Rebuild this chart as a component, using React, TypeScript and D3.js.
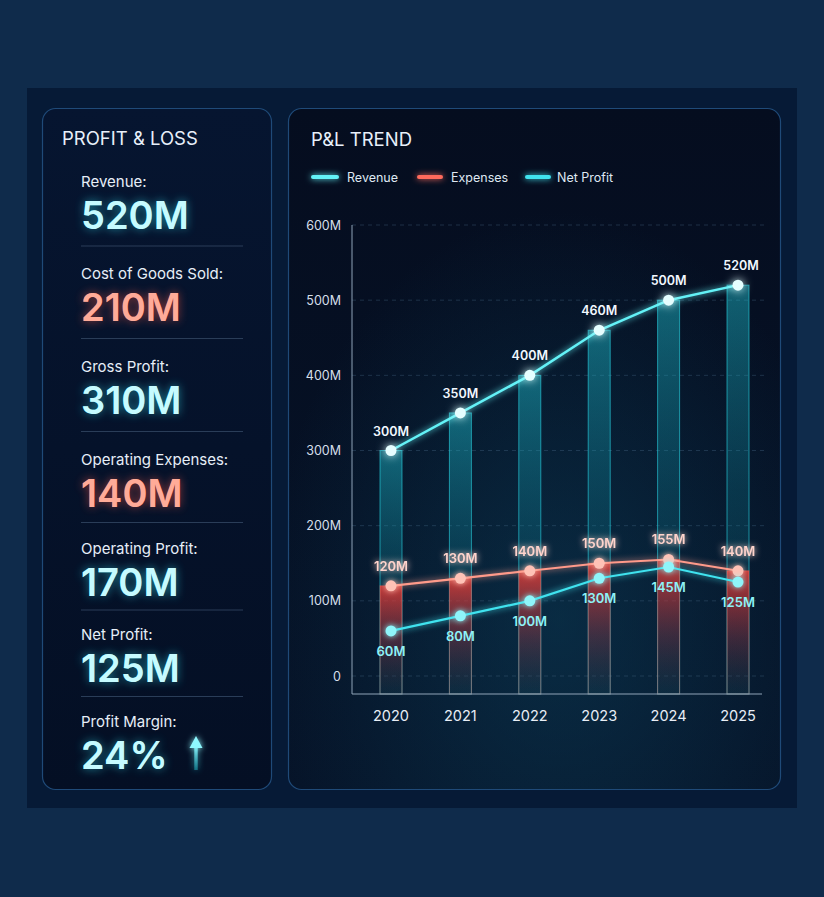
import React from 'react';
import * as d3 from 'd3';

const years = ['2020', '2021', '2022', '2023', '2024', '2025'];
const revenue = [300, 350, 400, 460, 500, 520];
const expenses = [120, 130, 140, 150, 155, 140];
const netProfit = [60, 80, 100, 130, 145, 125];
const yTicks = [0, 100, 200, 300, 400, 500, 600];
const legendNames = ['Revenue', 'Expenses', 'Net Profit'];

const summaryLabels = [
  'Revenue:',
  'Cost of Goods Sold:',
  'Gross Profit:',
  'Operating Expenses:',
  'Operating Profit:',
  'Net Profit:',
  'Profit Margin:',
];
const summaryValues = ['520M', '210M', '310M', '140M', '170M', '125M', '24%'];
const summaryTones = ['cyan', 'red', 'cyan', 'red', 'cyan', 'cyan', 'cyan'];

const W = 824;
const H = 897;
const FONT = "Inter, Roboto, 'Noto Sans', sans-serif";
const rowLabelY = [181, 273, 366, 459, 548, 634, 721];

const fmt = (v: number) => (v === 0 ? '0' : `${v}M`);

export default function App() {
  const x = d3.scalePoint<string>().domain(years).range([391, 738]);
  const y = d3.scaleLinear().domain([0, 600]).range([676, 225]);
  const axisY = 694;
  const barW = 22;

  const line = d3
    .line<number>()
    .x((_, i) => x(years[i]) as number)
    .y((d) => y(d));

  const colors = {
    rev: '#63f2f7',
    exp: '#ff6a5c',
    net: '#3fe3ef',
  };

  const legendX = [313, 419, 527];
  const legendTextX = [347, 451, 557];

  return (
    <div style={{ position: 'absolute', left: 0, top: 0 }}>
      <svg width={W} height={H} style={{ display: 'block' }}>
        <defs>
          <filter id="glow" filterUnits="userSpaceOnUse" x={0} y={0} width={W} height={H}>
            <feGaussianBlur stdDeviation="3" result="b" />
            <feMerge>
              <feMergeNode in="b" />
              <feMergeNode in="SourceGraphic" />
            </feMerge>
          </filter>
          <filter id="glowBig" filterUnits="userSpaceOnUse" x={0} y={0} width={W} height={H}>
            <feGaussianBlur stdDeviation="5" result="b" />
            <feMerge>
              <feMergeNode in="b" />
              <feMergeNode in="SourceGraphic" />
            </feMerge>
          </filter>
          <linearGradient id="cardL" x1="0" y1="0" x2="0" y2="1">
            <stop offset="0" stopColor="#061530" />
            <stop offset="1" stopColor="#040f24" />
          </linearGradient>
          <linearGradient id="cardR" x1="0" y1="0" x2="0" y2="1">
            <stop offset="0" stopColor="#050d1f" />
            <stop offset="1" stopColor="#061429" />
          </linearGradient>
          <radialGradient id="chartGlow" cx="0.55" cy="0.75" r="0.6">
            <stop offset="0" stopColor="#0d4a66" stopOpacity="0.45" />
            <stop offset="1" stopColor="#0d4a66" stopOpacity="0" />
          </radialGradient>
          <linearGradient id="barRev" x1="0" y1="0" x2="0" y2="1">
            <stop offset="0" stopColor="#1fc6d6" stopOpacity="0.45" />
            <stop offset="0.5" stopColor="#0f8ea3" stopOpacity="0.25" />
            <stop offset="1" stopColor="#0a5c70" stopOpacity="0.18" />
          </linearGradient>
          <linearGradient id="barExp" x1="0" y1="0" x2="0" y2="1">
            <stop offset="0" stopColor="#ff3a30" stopOpacity="0.75" />
            <stop offset="0.55" stopColor="#b8202a" stopOpacity="0.3" />
            <stop offset="1" stopColor="#601018" stopOpacity="0.05" />
          </linearGradient>
          <linearGradient id="arrowG" x1="0" y1="0" x2="0" y2="1">
            <stop offset="0" stopColor="#8ff8ff" />
            <stop offset="1" stopColor="#1a9fb0" stopOpacity="0.6" />
          </linearGradient>
        </defs>

        {/* page background */}
        <rect x={0} y={0} width={W} height={H} fill="#0f2b4b" />
        {/* outer panel */}
        <rect x={27} y={88} width={770} height={720} fill="#061a36" />

        {/* left card */}
        <rect x={42.5} y={108.5} width={229} height={681} rx={13} fill="url(#cardL)" stroke="#1f4a78" strokeWidth={1.2} />
        {/* right card */}
        <rect x={288.5} y={108.5} width={492} height={681} rx={13} fill="url(#cardR)" stroke="#1f4a78" strokeWidth={1.2} />
        <rect x={289} y={109} width={491} height={680} rx={13} fill="url(#chartGlow)" />

        {/* left card content */}
        <text x={62} y={145} fill="#e8f0fa" fontFamily={FONT} fontSize={18.5} fontWeight={400}>
          PROFIT &amp; LOSS
        </text>
        {summaryLabels.map((lab, i) => {
          const ly = rowLabelY[i];
          const vy = ly + 34;
          const tone = summaryTones[i];
          const fill = tone === 'red' ? '#ffab98' : '#c6fbff';
          const glowC = tone === 'red' ? '#ff5a44' : '#2fd6e8';
          return (
            <g key={lab}>
              <text x={81} y={ly + 5.5} fill="#e6eef8" fontFamily={FONT} fontSize={15}>
                {lab}
              </text>
              <text
                x={81}
                y={vy + 14}
                fill={glowC}
                fontFamily={FONT}
                fontSize={38}
                fontWeight={600}
                filter="url(#glowBig)"
                opacity={0.6}
              >
                {summaryValues[i]}
              </text>
              <text x={81} y={vy + 14} fill={fill} fontFamily={FONT} fontSize={38} fontWeight={600}>
                {summaryValues[i]}
              </text>
              {i < summaryLabels.length - 1 && (
                <line
                  x1={81}
                  x2={243}
                  y1={(rowLabelY[i] + 34 + rowLabelY[i + 1]) / 2 + 2}
                  y2={(rowLabelY[i] + 34 + rowLabelY[i + 1]) / 2 + 2}
                  stroke="#2a3d58"
                  strokeWidth={1}
                />
              )}
            </g>
          );
        })}
        {/* profit margin arrow */}
        <g filter="url(#glow)">
          <rect x={194.3} y={745} width={3.4} height={25} fill="url(#arrowG)" />
          <path d="M196,736 L189.5,748 L202.5,748 Z" fill="#8ff8ff" />
        </g>

        {/* chart title */}
        <text x={311} y={146} fill="#e8f0fa" fontFamily={FONT} fontSize={18.5} fontWeight={400}>
          P&amp;L TREND
        </text>

        {/* legend */}
        {legendNames.map((name, i) => {
          const c = i === 0 ? colors.rev : i === 1 ? colors.exp : colors.net;
          const lx = legendX[i];
          return (
            <g key={name}>
              <line
                x1={lx}
                x2={lx + (i === 0 ? 24 : 22)}
                y1={177}
                y2={177}
                stroke={c}
                strokeWidth={4}
                strokeLinecap="round"
                filter="url(#glow)"
              />
              <text x={legendTextX[i]} y={181.5} fill="#dfe8f2" fontFamily={FONT} fontSize={12.5}>
                {name}
              </text>
            </g>
          );
        })}

        {/* grid */}
        {yTicks.map((t) => (
          <g key={t}>
            <line
              x1={352}
              x2={765}
              y1={y(t)}
              y2={y(t)}
              stroke="#4a6a8a"
              strokeOpacity={0.45}
              strokeDasharray="4 4"
              strokeWidth={0.8}
            />
            <text
              x={341}
              y={y(t) + 4.5}
              textAnchor="end"
              fill="#d5dfea"
              fontFamily={FONT}
              fontSize={12.5}
            >
              {fmt(t)}
            </text>
          </g>
        ))}

        {/* bars */}
        {years.map((yr, i) => {
          const cx = x(yr) as number;
          return (
            <g key={yr}>
              <rect
                x={cx - barW / 2}
                y={y(revenue[i])}
                width={barW}
                height={axisY - y(revenue[i])}
                fill="url(#barRev)"
                stroke="#2ad7e6"
                strokeOpacity={0.6}
                strokeWidth={1}
              />
              <rect
                x={cx - barW / 2}
                y={y(expenses[i])}
                width={barW}
                height={axisY - y(expenses[i])}
                fill="url(#barExp)"
                stroke="#ff5a4a"
                strokeOpacity={0.4}
                strokeWidth={1}
              />
            </g>
          );
        })}

        {/* axes */}
        <line x1={352} x2={352} y1={225} y2={axisY} stroke="#8fa3b8" strokeWidth={1} />
        <line x1={352} x2={762} y1={axisY} y2={axisY} stroke="#8fa3b8" strokeWidth={1.2} />
        {years.map((yr) => (
          <text
            key={yr}
            x={x(yr) as number}
            y={721}
            textAnchor="middle"
            fill="#e8eef6"
            fontFamily={FONT}
            fontSize={14.5}
          >
            {yr}
          </text>
        ))}

        {/* lines */}
        <path d={line(revenue) || ''} fill="none" stroke={colors.rev} strokeWidth={2.5} filter="url(#glow)" />
        <path d={line(expenses) || ''} fill="none" stroke="#ff9a8a" strokeWidth={2.2} filter="url(#glow)" />
        <path d={line(netProfit) || ''} fill="none" stroke={colors.net} strokeWidth={2.2} filter="url(#glow)" />

        {/* points + labels */}
        {years.map((yr, i) => {
          const cx = x(yr) as number;
          return (
            <g key={yr}>
              <circle cx={cx} cy={y(revenue[i])} r={5.5} fill="#e6feff" filter="url(#glowBig)" />
              <circle cx={cx} cy={y(expenses[i])} r={5.5} fill="#ffc2b6" filter="url(#glow)" />
              <circle cx={cx} cy={y(netProfit[i])} r={5.5} fill="#8ff5fa" filter="url(#glow)" />
              <text
                x={cx + (i === 5 ? 3 : 0)}
                y={y(revenue[i]) - 15}
                textAnchor="middle"
                fill="#f2f8ff"
                fontFamily={FONT}
                fontSize={12.5}
                fontWeight={600}
              >
                {fmt(revenue[i])}
              </text>
              <text
                x={cx}
                y={y(expenses[i]) - 15}
                textAnchor="middle"
                fill="#ffd4cc"
                fontFamily={FONT}
                fontSize={13}
                fontWeight={600}
                filter="url(#glow)"
              >
                {fmt(expenses[i])}
              </text>
              <text
                x={cx}
                y={y(netProfit[i]) + 25}
                textAnchor="middle"
                fill="#8ef2f7"
                fontFamily={FONT}
                fontSize={13}
                fontWeight={600}
              >
                {fmt(netProfit[i])}
              </text>
            </g>
          );
        })}
      </svg>
    </div>
  );
}
